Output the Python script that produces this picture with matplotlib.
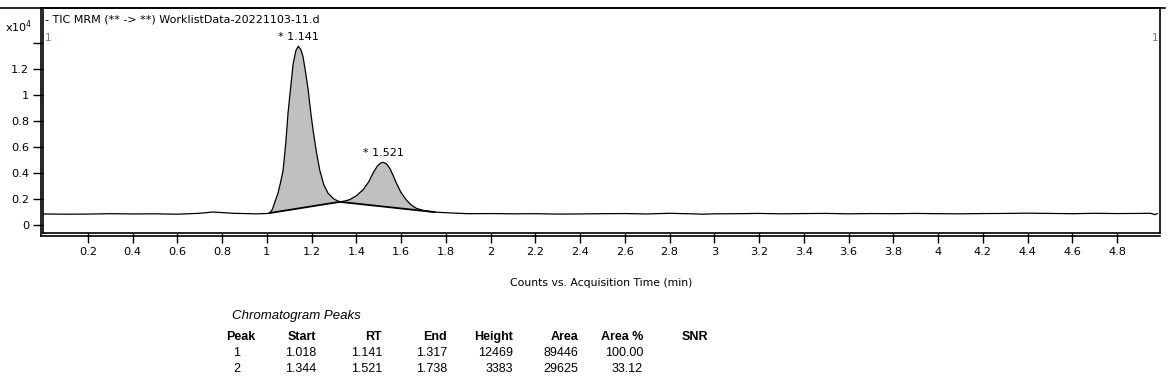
import numpy as np
import matplotlib.pyplot as plt
from matplotlib.lines import Line2D

plt.rcParams['font.family'] = ['DejaVu Sans']

# chromatogram trace (time in min, counts in x10^4)
time = [0.0, 0.1, 0.2, 0.3, 0.4, 0.5, 0.6, 0.7, 0.76, 0.85, 0.95, 1.0, 1.013,
        1.025, 1.035, 1.05, 1.062, 1.073, 1.085, 1.095, 1.107, 1.118, 1.13, 1.141,
        1.152, 1.162, 1.173, 1.185, 1.197, 1.207, 1.222, 1.237, 1.255, 1.274, 1.30,
        1.326, 1.35, 1.371, 1.40, 1.43, 1.455, 1.475, 1.495, 1.51, 1.521, 1.535,
        1.55, 1.565, 1.58, 1.60, 1.625, 1.645, 1.669, 1.70, 1.743, 1.818,
        1.9, 2.0, 2.1, 2.2, 2.3, 2.4, 2.5, 2.6, 2.7,
        2.8, 2.9, 2.95, 3.0, 3.1, 3.2, 3.3, 3.4, 3.5, 3.6, 3.7, 3.8, 3.9, 4.0,
        4.1, 4.2, 4.3, 4.4, 4.5, 4.6, 4.7, 4.8, 4.9, 4.95, 4.97, 4.98]
counts = [0.085, 0.083, 0.084, 0.087, 0.085, 0.086, 0.083, 0.090, 0.100, 0.090, 0.086, 0.088, 0.092,
          0.12, 0.17, 0.244, 0.33, 0.42, 0.63, 0.86, 1.06, 1.24, 1.34, 1.375,
          1.35, 1.295, 1.18, 1.04, 0.86, 0.73, 0.56, 0.42, 0.31, 0.244, 0.20,
          0.178, 0.185, 0.195, 0.225, 0.27, 0.33, 0.40, 0.455, 0.478, 0.482, 0.47,
          0.436, 0.38, 0.32, 0.25, 0.19, 0.155, 0.128, 0.112, 0.100, 0.093,
          0.087, 0.088, 0.086, 0.087, 0.084, 0.085, 0.087, 0.088, 0.085,
          0.090, 0.086, 0.083, 0.086, 0.087, 0.089, 0.086, 0.088, 0.089, 0.086, 0.088, 0.087, 0.089, 0.087,
          0.086, 0.088, 0.089, 0.091, 0.089, 0.087, 0.090, 0.088, 0.089, 0.090, 0.080, 0.088]

# integrated peaks
peak_rt = [1.141, 1.521]
peak_lims = [(1.013, 1.326), (1.326, 1.75)]

# peak table
tbl_cols = ["Peak", "Start", "RT", "End", "Height", "Area", "Area %", "SNR"]
tbl_rows = [["1", "1.018", "1.141", "1.317", "12469", "89446", "100.00", ""],
            ["2", "1.344", "1.521", "1.738", "3383", "29625", "33.12", ""]]

W, H = 1171, 383
fig = plt.figure(figsize=(W / 100, H / 100), dpi=100)
ax = fig.add_axes([43 / W, 1 - 233 / H, (1160 - 43) / W, (233 - 8) / H])

t = np.array(time)
c = np.array(counts)

for (a, b) in peak_lims:
    ya, yb = np.interp(a, t, c), np.interp(b, t, c)
    m = (t > a) & (t < b)
    px = np.concatenate([[a], t[m], [b], [a]])
    py = np.concatenate([[ya], c[m], [yb], [ya]])
    ax.fill(px, py, color="#c0c0c0", lw=0)
    ax.plot([a, b], [ya, yb], color="black", lw=1.3)

ax.plot(t, c, color="black", lw=0.9)

for rt in peak_rt:
    ax.annotate(f"* {rt:.3f}", (rt, np.interp(rt, t, c)), xytext=(0, 3),
                textcoords="offset points", ha="center", va="bottom", fontsize=8)

ax.set_xlim(0, 4.992)
ax.set_ylim(-0.0615, 1.669)

xt = [round(0.2 * i, 1) for i in range(1, 25)]
ax.set_xticks(xt)
ax.set_xticklabels([f"{v:g}" for v in xt])
yt = [0, 0.2, 0.4, 0.6, 0.8, 1.0, 1.2, 1.4]
ax.set_yticks(yt)
ax.set_yticklabels([f"{v:g}" for v in yt[:-1]] + [""])
ax.tick_params(direction="out", length=7, width=1, labelsize=8.2, pad=3)
for s in ax.spines.values():
    s.set_linewidth(1.2)

ax.set_xlabel("Counts vs. Acquisition Time (min)", fontsize=7.8, labelpad=15)

# double left / bottom axis lines and top rule
fig.add_artist(Line2D([40.5 / W, 40.5 / W], [1 - 8 / H, 1 - 236 / H], color="black", lw=1.2))
fig.add_artist(Line2D([40.5 / W, 1160 / W], [1 - 235.5 / H, 1 - 235.5 / H], color="black", lw=1.2))
fig.add_artist(Line2D([0, 1165 / W], [1 - 8 / H, 1 - 8 / H], color="black", lw=1.2))

fig.text(45 / W, 1 - 20 / H, "- TIC MRM (** -> **) WorklistData-20221103-11.d",
         fontsize=8, va="center", ha="left")
fig.text(5 / W, 1 - 27 / H, r"x10$^4$", fontsize=8, va="center", ha="left")
fig.text(45 / W, 1 - 38 / H, "1", fontsize=7.5, color="#9a7464", va="center")
fig.text(1152 / W, 1 - 38 / H, "1", fontsize=7.5, color="#9a7464", va="center")

# peak table
tfont = ['Liberation Sans', 'DejaVu Sans']
fig.text(232 / W, 1 - 316 / H, "Chromatogram Peaks", fontsize=9.5, style="italic",
         va="center", family=tfont)
col_x = [226, 316, 382, 447, 513, 578, 643, 708]
for i, name in enumerate(tbl_cols):
    ha = "left" if i == 0 else "right"
    fig.text(col_x[i] / W, 1 - 337 / H, name, fontsize=9, weight="bold",
             ha=ha, va="center", family=tfont)
for r, row in enumerate(tbl_rows):
    y = [353, 369][r]
    for i, v in enumerate(row):
        if i == 0:
            fig.text(237 / W, 1 - y / H, v, fontsize=9, ha="center", va="center", family=tfont)
        else:
            fig.text(col_x[i] / W, 1 - y / H, v, fontsize=9, ha="right", va="center", family=tfont)

fig.savefig("out.png", dpi=100)
